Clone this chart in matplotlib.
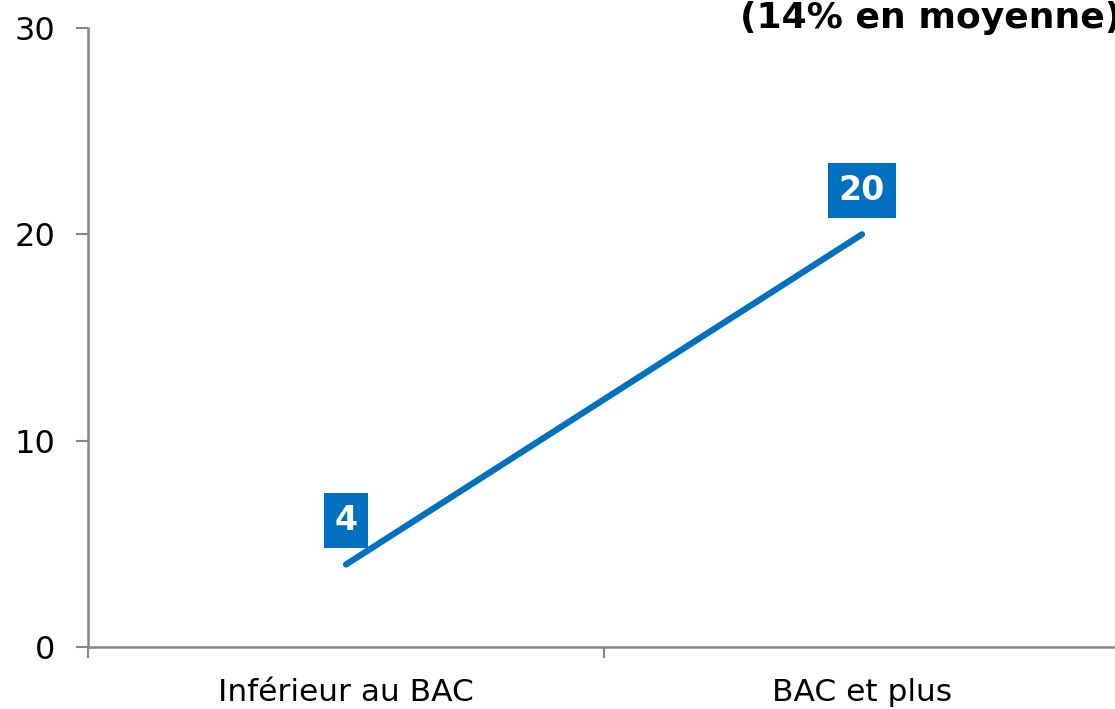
import matplotlib
matplotlib.use("Agg")
import matplotlib.pyplot as plt

categories = ["Inférieur au BAC", "BAC et plus"]
values = [4, 20]
yticks = [0, 10, 20, 30]
title = "(14% en moyenne)"

blue = "#0070C0"
gray = "#868686"

fig = plt.figure(figsize=(11.15, 7.09), dpi=100)
ax = fig.add_axes([88/1115, 62/709, 1032/1115, 619/709])

x = list(range(len(categories)))
ax.plot(x, values, color=blue, lw=4.5, solid_capstyle="round", zorder=3)

for xi, v in zip(x, values):
    ax.annotate(str(v), (xi, v), xytext=(0, 44), textcoords="offset pixels",
                ha="center", va="center", fontsize=24, fontweight="bold", color="white",
                bbox=dict(boxstyle="square,pad=0.32", fc=blue, ec="none"))

ax.set_xlim(-0.5, 1.5)
ax.set_ylim(0, 30)
ax.set_yticks(yticks)
ax.set_xticks([-0.5, 0.5, 1.5], minor=False)
ax.set_xticklabels(["", "", ""])
ax.set_xticks(x, minor=True)
ax.set_xticklabels(categories, minor=True)
ax.tick_params(axis="x", which="minor", length=0, pad=22, labelsize=22.5)
ax.tick_params(axis="x", which="major", length=8, width=1.5, color=gray, direction="out")
ax.tick_params(axis="y", length=8.6, width=1.5, color=gray, direction="out", labelsize=23, pad=15)

for s in ["top", "right"]:
    ax.spines[s].set_visible(False)
for s in ["left", "bottom"]:
    ax.spines[s].set_color(gray)
    ax.spines[s].set_linewidth(1.8)

fig.text(740/1115, 1 - 28/709, title, ha="left", va="baseline", fontsize=26, fontweight="bold")

fig.savefig("out.png", dpi=100)
